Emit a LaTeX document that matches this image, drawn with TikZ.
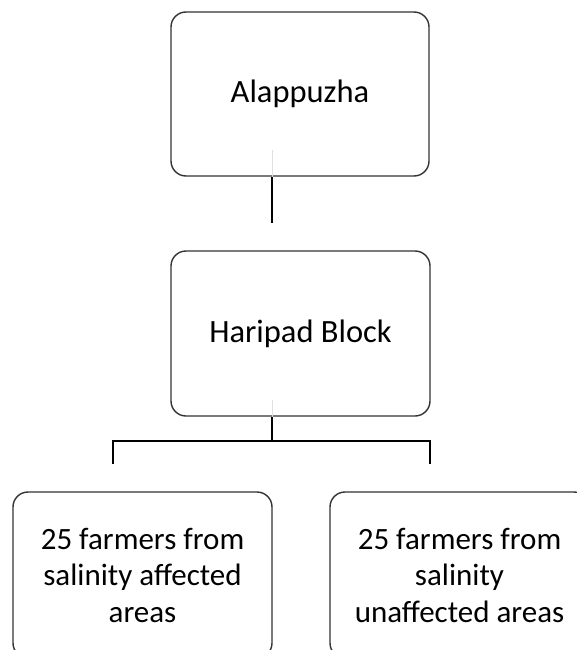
\documentclass[tikz,border=0pt]{standalone}
\usepackage{fontspec}
\setmainfont{Carlito}
\begin{document}
\begin{tikzpicture}[x=1pt,y=-1pt,
  box/.style={draw=black!80,line width=1.4pt,rounded corners=15pt,fill=white,
    inner sep=0pt,align=center},
  bigtext/.style={font=\fontsize{32.5}{38}\selectfont},
  smalltext/.style={font=\fontsize{31}{36.5}\selectfont},
  link/.style={draw=black,line width=1.5pt},
  faint/.style={draw=black!12,line width=1pt}]
\clip (0,0) rectangle (577,650);
\fill[white] (0,0) rectangle (577,650);
\node[box,bigtext,minimum width=258pt,minimum height=164pt] (top) at (300,94) {Alappuzha};
\node[box,bigtext,minimum width=259pt,minimum height=165pt] (mid) at (300.5,333.5) {Haripad Block};
\node[box,smalltext,minimum width=259pt,minimum height=166pt] (bl) at (142.5,575) {25 farmers from\\salinity affected\\areas};
\node[box,smalltext,minimum width=259pt,minimum height=166pt] (br) at (459.5,575) {25 farmers from\\salinity\\unaffected areas};
\coordinate (t1) at (272,150);
\coordinate (t2) at (272,223);
\coordinate (m1) at (272,400);
\coordinate (hub) at (272,441);
\coordinate (lh) at (113,441);
\coordinate (rh) at (430,441);
\coordinate (ld) at (113,464);
\coordinate (rd) at (430,464);
\draw[faint] (t1) -- (t1 |- top.south);
\draw[link] (t1 |- top.south) -- (t2);
\draw[faint] (m1) -- (m1 |- mid.south);
\draw[link] (m1 |- mid.south) -- (hub);
\draw[link] (ld) -- (lh) -- (rh) -- (rd);
\end{tikzpicture}
\end{document}
